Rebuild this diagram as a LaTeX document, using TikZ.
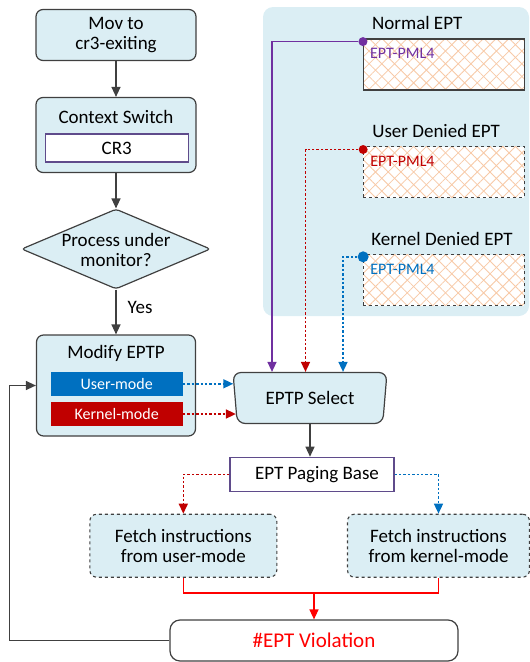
\documentclass[tikz,border=0pt]{standalone}
\usepackage{fontspec}
\setmainfont{Carlito}
\usepackage{tikz}
\usetikzlibrary{arrows.meta,shapes.geometric,patterns.meta}
\definecolor{boxfill}{HTML}{DBEEF4}
\definecolor{edge}{HTML}{404040}
\definecolor{pbedge}{HTML}{5F4B8B}
\definecolor{eptpurple}{HTML}{7030A0}
\definecolor{eptred}{HTML}{C00000}
\definecolor{eptblue}{HTML}{0070C0}
\definecolor{vred}{HTML}{FF0000}
\definecolor{hatch}{HTML}{F8C9A6}
\newcommand\mainfs{\fontsize{19}{20}\selectfont}
\newcommand\smallfs{\fontsize{16}{18}\selectfont}
\tikzset{
  arr/.style={-{Triangle[length=10pt,width=9pt]}},
  flow/.style={arr, line width=1.3pt, draw=edge},
  txt/.style={font=\mainfs, inner sep=0pt, align=center},
  box/.style={draw=edge, fill=boxfill, line width=1.2pt, rounded corners=7pt, align=center, font=\mainfs},
  reg/.style={draw=pbedge, fill=white, line width=1.2pt, font=\mainfs},
  bar/.style={minimum width=132pt, minimum height=23.5pt, inner sep=0pt, text=white, font=\smallfs},
  cond/.style={diamond, draw=edge, fill=boxfill, line width=1.2pt, rounded corners=3pt, minimum width=189pt, minimum height=80pt, inner sep=0pt},
  sel/.style={trapezium, trapezium left angle=102, trapezium right angle=102, trapezium stretches body, minimum width=154pt, minimum height=51pt, draw=edge, fill=boxfill, line width=1.2pt, rounded corners=8pt, font=\mainfs},
  fetch/.style={box, dashed, minimum height=63pt, line width=1.1pt},
  viol/.style={draw=edge, fill=white, line width=1.2pt, rounded corners=10pt, minimum width=288pt, minimum height=41pt, text=vred, font=\fontsize{21}{22}\selectfont},
  eptbase/.style={minimum width=160.7pt, minimum height=51pt, inner sep=0pt,
    preaction={fill=white},
    pattern={Lines[angle=45,distance=9pt,line width=0.8pt]}, pattern color=hatch,
    postaction={pattern={Lines[angle=-45,distance=9pt,line width=0.8pt]}, pattern color=hatch}},
  eptsolid/.style={eptbase, postaction={draw=edge, line width=1.1pt}},
  eptdash/.style={eptbase, postaction={draw=edge, line width=1.1pt, dashed}},
  dot/.style={circle, inner sep=0pt, minimum size=9pt},
  pml/.style={font=\smallfs, inner sep=0pt},
  lbl/.style={font=\mainfs, inner sep=0pt},
  dotline/.style={line width=1.6pt, dash pattern=on 2.4pt off 2pt},
  solidline/.style={line width=1.4pt}
}

\begin{document}
\begin{tikzpicture}[x=1pt,y=1pt]
  \useasboundingbox (0,0) rectangle (530,-662);
  % panel behind the three EPTs
  \fill[boxfill, rounded corners=10pt] (263,-7) rectangle (529,-316);

  % left column
  \node[box, minimum width=160pt, minimum height=51pt] (mov) at (116,-35) {Mov to\\cr3-exiting};
  \node[box, minimum width=160pt, minimum height=75pt] (ctx) at (116,-135) {};
  \node[txt] (ctxT) at (116,-117) {Context Switch};
  \node[reg, minimum width=143pt, minimum height=28pt, inner sep=0pt] (cr3) at (116.7,-148) {CR3};
  \node[cond] (mon) at (116,-249) {};
  \node[txt] (monT) at (116,-250) {Process under\\monitor?};
  \node[box, minimum width=159pt, minimum height=101pt] (mod) at (116,-385.5) {};
  \node[txt] (modT) at (116,-353) {Modify EPTP};
  \node[bar, fill=eptblue] (user) at (116.7,-383.8) {User-mode};
  \node[bar, fill=eptred] (kern) at (116.7,-414) {Kernel-mode};

  % selection and paging
  \node[sel] (sel) at (310,-398) {EPTP Select};
  \path (sel.top left corner) -- (sel.bottom left corner)
    coordinate[pos=0.21] (selU) coordinate[pos=0.81] (selK);
  \node[reg, minimum width=164pt, minimum height=34pt] (pb) at (312,-474.3) {\hspace{10pt}EPT Paging Base};
  \node[fetch, minimum width=187pt] (fu) at (183.3,-545.7) {Fetch instructions\\from user-mode};
  \node[fetch, minimum width=182pt] (fk) at (438.5,-545.7) {Fetch instructions\\from kernel-mode};
  \node[viol] (viol) at (314,-640.5) {\#EPT Violation};

  % EPT tables
  \node[eptsolid] (nrm) at (443.7,-64.5) {};
  \node[eptdash] (usr) at (443.7,-172.2) {};
  \node[eptdash] (krn) at (443.7,-280) {};
  \node[lbl, anchor=base west] (nrmL) at ([xshift=9pt,yshift=9pt]nrm.north west) {Normal EPT};
  \node[lbl, anchor=base west] (usrL) at ([xshift=9pt,yshift=9pt]usr.north west) {User Denied EPT};
  \node[lbl, anchor=base west] (krnL) at ([xshift=8pt,yshift=9pt]krn.north west) {Kernel Denied EPT};
  \node[pml, text=eptpurple, anchor=base west] (nrmP) at ([xshift=7pt,yshift=-20pt]nrm.north west) {EPT-PML4};
  \node[pml, text=eptred, anchor=base west] (usrP) at ([xshift=7pt,yshift=-20pt]usr.north west) {EPT-PML4};
  \node[pml, text=eptblue, anchor=base west] (krnP) at ([xshift=7pt,yshift=-20pt]krn.north west) {EPT-PML4};
  \node[dot, fill=eptpurple] (nDot) at ([yshift=-3pt]nrm.north west) {};
  \node[dot, fill=eptred] (uDot) at ([yshift=-3pt]usr.north west) {};
  \node[dot, fill=eptblue, minimum size=11pt] (kDot) at ([yshift=-2.5pt]krn.north west) {};

  % flow
  \draw[flow] (mov) -- (ctx);
  \draw[flow] (ctx) -- (mon);
  \draw[flow] (mon) -- node[txt, right, pos=0.4, xshift=11pt] (yes) {Yes} (mod);
  \draw[flow] (sel.south) -- (sel.south |- pb.north);
  \draw[dotline, eptblue, arr] (user) -- (user.east -| selU);
  \draw[dotline, eptred, arr] (kern) -- (kern.east -| selK);
  \draw[solidline, eptpurple, arr] (nDot) -| ([xshift=-38pt]sel.north);
  \draw[dotline, eptred, arr] (uDot) -| ([xshift=-4.5pt]sel.north);
  \draw[dotline, eptblue, arr] (kDot) -| ([xshift=33pt]sel.north);
  \draw[dotline, eptred, arr] (pb) -| (fu);
  \draw[dotline, eptblue, arr] (pb) -| (fk);

  % merge into the violation
  \coordinate (join) at (314,-593);
  \draw[solidline, vred] (fu) |- (join) -| (fk);
  \draw[solidline, vred, arr] (join) -- (viol);

  % back to Modify EPTP
  \coordinate (loopX) at (9.3,0);
  \draw[flow] (viol.west) -- (viol.west -| loopX) |- (mod.west);
\end{tikzpicture}
\end{document}
